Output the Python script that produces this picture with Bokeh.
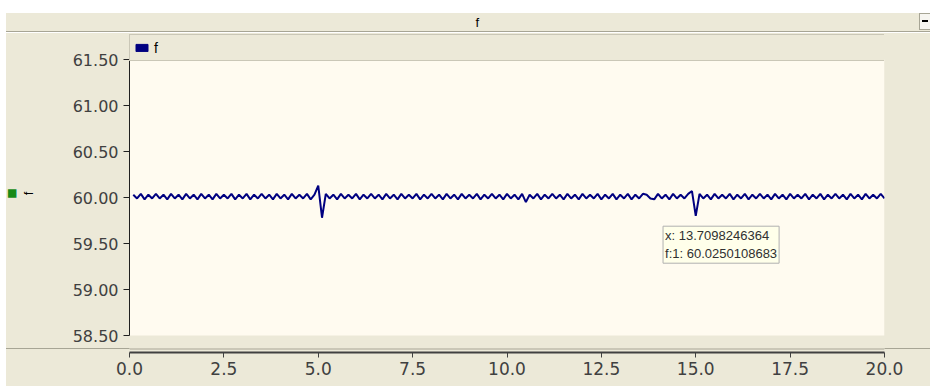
from bokeh.plotting import figure
from bokeh.models import (Range1d, FixedTicker, PrintfTickFormatter, Legend,
                          LegendItem, ColumnDataSource, BoxAnnotation, Label, LinearAxis)
from bokeh.embed import file_html
from bokeh.resources import INLINE

# ---------------- data ----------------
series_name = "f"
f_values = [
    60.03, 59.99, 60.04, 59.98, 60.03, 59.99, 60.04, 59.99, 60.03, 59.98,
    60.04, 59.99, 60.03, 59.98, 60.04, 59.99, 60.03, 59.98, 60.04, 59.99,
    60.03, 59.98, 60.04, 59.99, 60.03, 59.99, 60.04, 59.98, 60.03, 59.99,
    60.04, 59.98, 60.03, 59.99, 60.04, 59.99, 60.03, 59.98, 60.04, 59.99,
    60.03, 59.98, 60.04, 59.99, 60.03, 59.99, 60.04, 59.98, 60.03, 60.13,
    59.78, 60.04, 59.99, 60.03, 59.98, 60.04, 59.99, 60.03, 59.99, 60.04,
    59.98, 60.03, 59.99, 60.04, 59.99, 60.03, 59.98, 60.04, 59.99, 60.03,
    59.98, 60.04, 59.99, 60.03, 59.99, 60.04, 59.98, 60.03, 59.99, 60.04,
    59.99, 60.03, 59.98, 60.04, 59.99, 60.03, 59.98, 60.04, 59.99, 60.03,
    59.99, 60.04, 59.98, 60.03, 59.99, 60.04, 59.99, 60.03, 59.98, 60.04,
    59.99, 60.03, 59.98, 60.04, 59.95, 60.03, 59.99, 60.04, 59.98, 60.03,
    59.99, 60.04, 59.99, 60.03, 59.98, 60.04, 59.99, 60.03, 59.98, 60.04,
    59.99, 60.03, 59.99, 60.04, 59.98, 60.03, 59.99, 60.04, 59.98, 60.03,
    59.99, 60.04, 59.98, 60.03, 59.99, 60.04, 60.03, 59.99, 59.98, 60.04,
    59.99, 60.03, 59.98, 60.04, 59.99, 60.03, 59.99, 60.04, 60.07, 59.80,
    60.04, 59.99, 60.03, 59.98, 60.04, 59.99, 60.03, 59.99, 60.04, 59.98,
    60.03, 59.99, 60.04, 59.98, 60.03, 59.99, 60.04, 59.99, 60.03, 59.98,
    60.04, 59.99, 60.03, 59.98, 60.04, 59.99, 60.03, 59.99, 60.04, 59.98,
    60.03, 59.99, 60.04, 59.98, 60.03, 59.99, 60.04, 59.99, 60.03, 59.98,
    60.04, 59.99, 60.03, 59.98, 60.04, 59.99, 60.03, 59.99, 60.04, 59.99,
]
t_step = 0.1
t_values = [round(t_step * (i + 1), 1) for i in range(len(f_values))]

x_ticks = [0.0, 2.5, 5.0, 7.5, 10.0, 12.5, 15.0, 17.5, 20.0]
y_ticks = [58.5, 59.0, 59.5, 60.0, 60.5, 61.0, 61.5]
x_limits = (0.0, 20.0)
y_limits = (58.5, 61.5)

tooltip_x = 13.7098246364
tooltip_y = 60.0250108683

# ---------------- style / layout ----------------
PANEL = "#ECE9D8"
PLOT_BG = "#FFFBF0"
NAVY = "#000080"
TEXT = "#404040"
EDGE = "#A7A595"
W, H = 930, 386
LEFT, RIGHT, TOP, BOTTOM = 129, 46, 34, 34
LEGEND_PX = 25     # legend bar above the plot area
PLOT_PX = 276      # pixel height of the y-span of the plot area
GAP_PX = 17        # gap between plot area and the x axis
FRAME_W = W - LEFT - RIGHT
y_span = y_limits[1] - y_limits[0]
y_start = y_limits[0] - y_span * GAP_PX / PLOT_PX
y_end = y_limits[1] + y_span * LEGEND_PX / PLOT_PX

# window chrome painted behind the (transparent) plot border
chrome = ", ".join([
    "linear-gradient(#000000,#000000) 922px 20px / 6px 2px no-repeat",
    "linear-gradient(#F6F5F0,#F6F5F0) 920px 14px / 10px 15px no-repeat",
    f"linear-gradient({EDGE},{EDGE}) 919px 13px / 11px 17px no-repeat",
    "linear-gradient(#FFFFFF,#FFFFFF) 0px 0px / 6px 100% no-repeat",
    f"linear-gradient({EDGE},{EDGE}) 0px 31px / 100% 1px no-repeat",
    "linear-gradient(#FFFFFF,#FFFFFF) 0px 32px / 100% 1px no-repeat",
    f"linear-gradient({EDGE},{EDGE}) 0px 348px / 100% 1px no-repeat",
    "linear-gradient(#FFFFFF,#FFFFFF) 0px 0px / 100% 13px no-repeat",
    PANEL,
])

p = figure(width=W, height=H, x_range=Range1d(*x_limits),
           y_range=Range1d(y_start, y_end),
           min_border_left=LEFT, min_border_right=RIGHT, min_border_top=TOP,
           min_border_bottom=BOTTOM, toolbar_location=None, output_backend="svg",
           background_fill_color=PANEL, border_fill_color=PANEL, border_fill_alpha=0,
           outline_line_color=None)
p.styles = {"background": chrome}
p.grid.visible = False

# title bar text
p.title.text = series_name
p.title.align = "left"
p.title.offset = 346
p.title.standoff = 10
p.title.text_font = "Liberation Sans"
p.title.text_font_size = "13px"
p.title.text_font_style = "normal"
p.title.text_color = "#000000"

# cream plotting area and the separator inside the frame
p.add_layout(BoxAnnotation(left=x_limits[0], right=x_limits[1], bottom=y_limits[0],
                           top=y_limits[1], fill_color=PLOT_BG, fill_alpha=1,
                           line_color=None, level="underlay"))
p.add_layout(BoxAnnotation(top=4, bottom=3, top_units="screen", bottom_units="screen",
                           fill_color=EDGE, fill_alpha=1, line_color=None,
                           level="underlay"))

yax = p.yaxis[0]
yax.ticker = FixedTicker(ticks=y_ticks)
yax.formatter = PrintfTickFormatter(format="%.2f")
yax.bounds = y_limits
yax.major_tick_out = 6
yax.major_tick_in = 0
yax.minor_tick_line_color = None
yax.axis_line_color = "#202020"
yax.major_tick_line_color = "#202020"
yax.major_label_text_font = "DejaVu Sans"
yax.major_label_text_font_size = "16px"
yax.major_label_text_color = TEXT
yax.major_label_standoff = 5
yax.axis_label = series_name
yax.axis_label_standoff = 34
yax.axis_label_text_font = "Liberation Sans"
yax.axis_label_text_font_size = "13px"
yax.axis_label_text_font_style = "normal"
yax.axis_label_text_color = "#000000"

# green channel marker left of the axis caption
marker_axis = LinearAxis(ticker=FixedTicker(ticks=[]), axis_line_color=None,
                         major_tick_line_color=None, minor_tick_line_color=None,
                         major_label_text_font_size="0px", axis_label="■",
                         axis_label_standoff=0, axis_label_text_font="DejaVu Sans",
                         axis_label_text_font_size="11px",
                         axis_label_text_font_style="normal",
                         axis_label_text_color="#178A17")
p.add_layout(marker_axis, "left")

xax = p.xaxis[0]
xax.ticker = FixedTicker(ticks=x_ticks)
xax.formatter = PrintfTickFormatter(format="%.1f")
xax.major_tick_out = 5
xax.major_tick_in = 0
xax.minor_tick_line_color = None
xax.axis_line_color = "#404040"
xax.axis_line_width = 2
xax.major_tick_line_color = "#404040"
xax.major_label_text_font = "DejaVu Sans"
xax.major_label_text_font_size = "17px"
xax.major_label_text_color = TEXT
xax.major_label_standoff = 4

p.line(t_values, f_values, line_color=NAVY, line_width=2)

# legend swatch (only shown in the legend)
nan = float("nan")
legend_src = ColumnDataSource(dict(left=[nan], right=[nan], top=[nan], bottom=[nan]))
swatch = p.quad(left="left", right="right", top="top", bottom="bottom",
                source=legend_src, fill_color=NAVY, line_color=NAVY)
legend = Legend(items=[LegendItem(label=series_name, renderers=[swatch])],
                orientation="horizontal", location="top_left", margin=0, padding=4,
                glyph_width=15, glyph_height=9, label_height=17,
                label_width=FRAME_W - 8 - 15 - 5, label_standoff=5,
                background_fill_color=PANEL, background_fill_alpha=1,
                border_line_color=EDGE, label_text_font="Liberation Sans",
                label_text_font_size="14px", label_text_color="#000000")
p.add_layout(legend, "center")

# tooltip box
p.add_layout(Label(x=tooltip_x, y=tooltip_y, x_offset=16, y_offset=-31,
                   anchor="top_left",
                   text=f"x: {tooltip_x}\nf:1: {tooltip_y}",
                   text_font="Liberation Sans", text_font_size="13px",
                   text_color="#303030", background_fill_color="#FFFFEA",
                   border_line_color="#B0B0B0", padding=2))

open("out.html", "w").write(file_html(p, INLINE))
